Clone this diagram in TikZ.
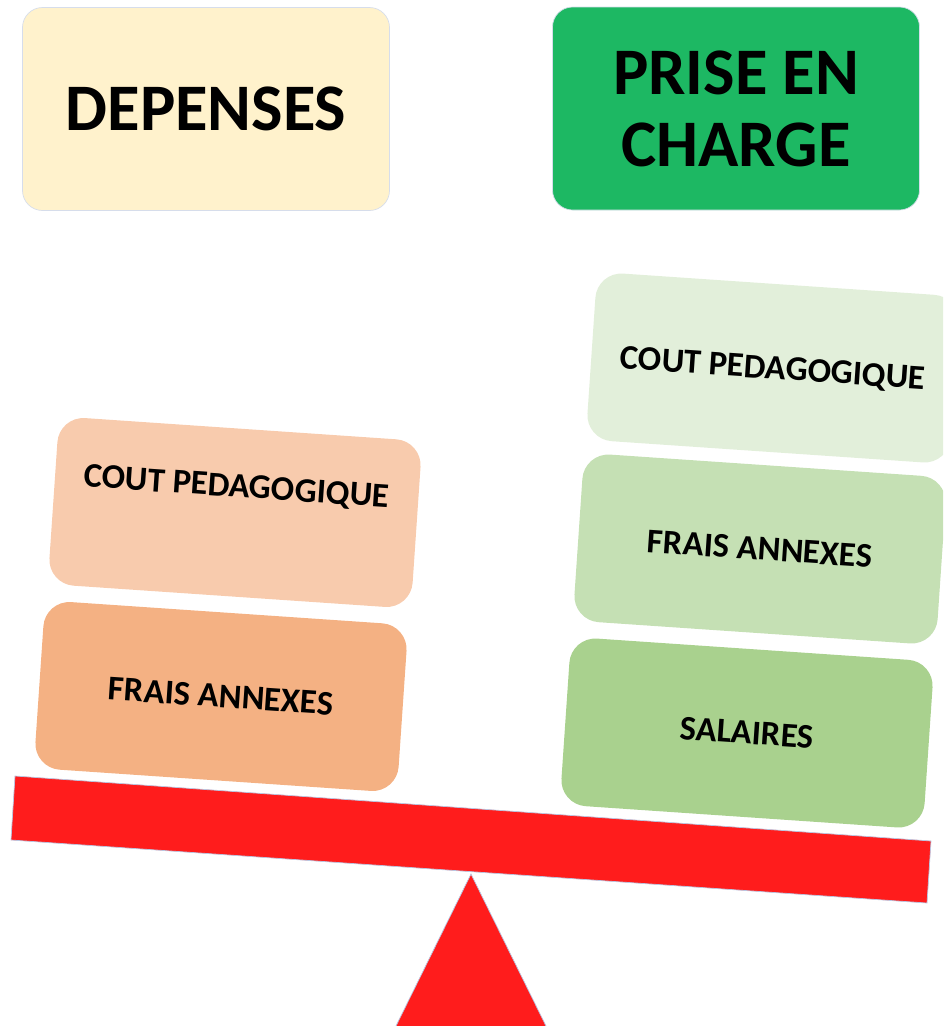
\documentclass[tikz,border=0pt]{standalone}
\usepackage{fontspec}
\setmainfont{Carlito}
\usetikzlibrary{calc}
\definecolor{depfill}{HTML}{FFF2CC}
\definecolor{prisefill}{HTML}{1DB863}
\definecolor{boxedge}{HTML}{D6DDEB}
\definecolor{orangeA}{HTML}{F8CBAD}
\definecolor{orangeB}{HTML}{F4B183}
\definecolor{greenA}{HTML}{E2EFDA}
\definecolor{greenB}{HTML}{C5E0B4}
\definecolor{greenC}{HTML}{A9D18E}
\definecolor{scalered}{HTML}{FF1C1C}
\definecolor{rededge}{HTML}{B8C6E2}
\begin{document}
\begin{tikzpicture}[x=1pt,y=-1pt,
  headbox/.style={rounded corners=20pt, draw=boxedge, line width=0.7pt,
    minimum width=367pt, minimum height=203pt, inner sep=0pt, align=center,
    font=\fontsize{66.5}{72}\selectfont\bfseries},
  itembox/.style={rotate=-3.9, rounded corners=26pt, minimum width=364pt,
    minimum height=168pt, inner sep=0pt, text height=22pt, text depth=0pt,
    font=\fontsize{34.6}{40}\selectfont\bfseries},
  redpart/.style={fill=scalered, draw=rededge, line width=0.7pt}]
\useasboundingbox (0,0) rectangle (943,1026);
\clip (0,0) rectangle (943,1026);
% header boxes
\node[headbox, fill=depfill] (dep) at (206,109) {DEPENSES};
\node[headbox, fill=prisefill] (prise) at (736,108.5) {PRISE EN\\CHARGE};
% left pan
\node[itembox, fill=orangeA, text depth=53pt] (lcout) at (235,512.5) {COUT PEDAGOGIQUE};
\node[itembox, fill=orangeB] (lfrais) at (221,696.5) {FRAIS ANNEXES};
% right pan
\node[itembox, fill=greenA] (rcout) at (773,368) {COUT PEDAGOGIQUE};
\node[itembox, fill=greenB] (rfrais) at (760,549) {FRAIS ANNEXES};
\node[itembox, fill=greenC] (rsal) at (747,733) {SALAIRES};
% scale
\coordinate (apex) at (471,874);
\coordinate (bl) at (396,1026);
\coordinate (br) at (546,1026);
\filldraw[redpart] (apex) -- ($(apex)!1.03!(bl)$) -- ($(apex)!1.03!(br)$) -- cycle;
\coordinate (b1) at (15,776);
\coordinate (b2) at (931,841);
\coordinate (b3) at (927,903);
\coordinate (b4) at (11,840);
\filldraw[redpart] (b1) -- (b2) -- (b3) -- (b4) -- cycle;
\end{tikzpicture}
\end{document}
